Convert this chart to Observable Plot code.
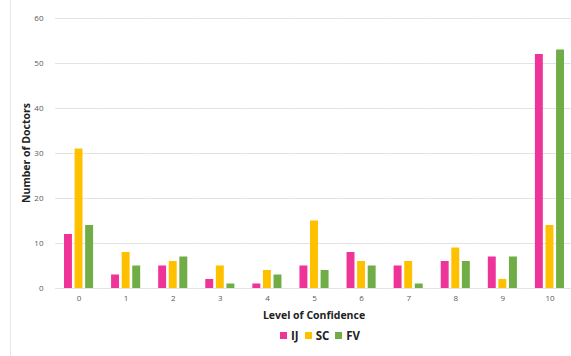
<!DOCTYPE html>
<html>
<head>
<meta charset="utf-8">
<script src="https://cdn.jsdelivr.net/npm/d3@7"></script>
<script src="https://cdn.jsdelivr.net/npm/@observablehq/plot@0.6"></script>
<style>
  html, body { margin: 0; padding: 0; background: #fff; }
  #chart { position: relative; width: 571px; height: 356px; font-family: "Open Sans", "Noto Sans", sans-serif; overflow: hidden; }
  #chart::before { content: ""; position: absolute; left: 10px; top: 0; bottom: 0; border-left: 1px solid #e6e6e6; }
  .legend { position: absolute; top: 328px; left: 280px; display: flex; gap: 6px; font-size: 11.5px; font-weight: bold; color: #222; }
  .legend span { display: inline-flex; align-items: center; }
  .legend i { display: inline-block; width: 7px; height: 7px; margin-right: 4px; }
</style>
</head>
<body>
<div id="chart"></div>
<script>
const categories = ["0","1","2","3","4","5","6","7","8","9","10"];
const seriesNames = ["IJ", "SC", "FV"];
const valuesIJ = [12, 3, 5, 2, 1, 5, 8, 5, 6, 7, 52];
const valuesSC = [31, 8, 6, 5, 4, 15, 6, 6, 9, 2, 14];
const valuesFV = [14, 5, 7, 1, 3, 4, 5, 1, 6, 7, 53];
const colors = ["#ee3399", "#ffc000", "#70ad47"];
const yTicks = [0, 10, 20, 30, 40, 50, 60];

const seriesValues = [valuesIJ, valuesSC, valuesFV];
const data = [];
categories.forEach((c, i) => {
  seriesNames.forEach((s, j) => data.push({category: c, series: s, value: seriesValues[j][i]}));
});

const plot = Plot.plot({
  width: 571,
  height: 326,
  marginLeft: 55,
  marginRight: -2,
  marginTop: 18,
  marginBottom: 38,
  style: {fontFamily: "'Open Sans', 'Noto Sans', sans-serif", fontSize: "8px", color: "#595959", background: "transparent", overflow: "visible"},
  fx: {domain: categories, padding: 0, round: false, label: null, axis: null},
  x: {domain: seriesNames, paddingInner: 0.25, paddingOuter: 0.85, round: false, axis: null},
  y: {domain: [0, 60], ticks: yTicks, axis: null},
  color: {domain: seriesNames, range: colors},
  marks: [
    Plot.ruleY(yTicks, {stroke: "#e3e3e3", strokeWidth: 1}),
    Plot.barY(data, {fx: "category", x: "series", y: "value", fill: "series"}),
    Plot.axisY(yTicks, {tickSize: 0, tickPadding: 12, fontSize: 8, fill: "#595959",
      label: null, facetAnchor: "left"}),
    Plot.axisFx({anchor: "bottom", tickSize: 0, tickPadding: 7, fontSize: 8, label: null, fill: "#595959"})
  ]
});

const chart = document.getElementById("chart");
chart.appendChild(plot);

// axis titles
const svg = d3.select(plot);
svg.append("text")
  .attr("x", 314).attr("y", 319)
  .attr("text-anchor", "middle")
  .attr("font-size", 10.5).attr("font-weight", "bold").attr("fill", "#222")
  .text("Level of Confidence");
svg.append("text")
  .attr("transform", "translate(30,153) rotate(-90)")
  .attr("text-anchor", "middle")
  .attr("font-size", 10.5).attr("font-weight", "bold").attr("fill", "#222")
  .text("Number of Doctors");

const legend = document.createElement("div");
legend.className = "legend";
seriesNames.forEach((s, i) => {
  const sp = document.createElement("span");
  sp.innerHTML = `<i style="background:${colors[i]}"></i>${s}`;
  legend.appendChild(sp);
});
chart.appendChild(legend);
</script>
</body>
</html>
